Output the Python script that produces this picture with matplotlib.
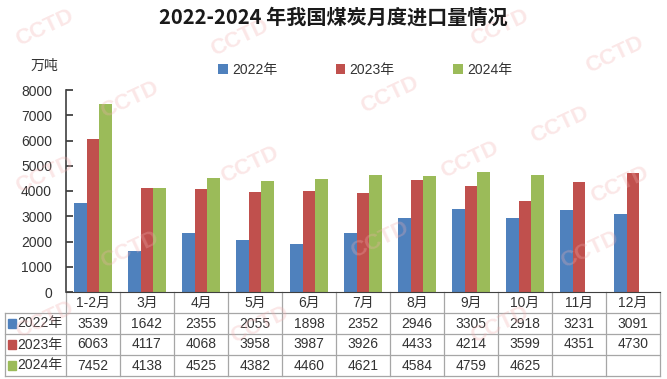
import matplotlib.pyplot as plt
import matplotlib.transforms as mtransforms
from matplotlib.patches import Rectangle
import numpy as np

plt.rcParams['font.family'] = ['Liberation Sans', 'Noto Sans CJK SC', 'DejaVu Sans']

# --- DATI ---
months = ["1-2月", "3月", "4月", "5月", "6月", "7月", "8月", "9月", "10月", "11月", "12月"]
years = ["2022年", "2023年", "2024年"]
v2022 = [3539, 1642, 2355, 2055, 1898, 2352, 2946, 3305, 2918, 3231, 3091]
v2023 = [6063, 4117, 4068, 3958, 3987, 3926, 4433, 4214, 3599, 4351, 4730]
v2024 = [7452, 4138, 4525, 4382, 4460, 4621, 4584, 4759, 4625, None, None]
colors = ["#4F81BD", "#C0504D", "#9BBB59"]

W, H = 667, 379
fig = plt.figure(figsize=(W / 100, H / 100), dpi=100)
fig.patch.set_facecolor("white")

# axes: x 66..660 px, y 90..292 px
x0, x1, ytop, ybot = 66, 660, 90, 292
ax = fig.add_axes([x0 / W, 1 - ybot / H, (x1 - x0) / W, (ybot - ytop) / H])

# watermark CCTD (tenue)
wm = [(45, 28), (240, 38), (500, 28), (615, 55), (130, 100), (390, 95), (560, 125),
      (45, 175), (250, 165), (470, 160), (620, 185), (130, 250), (380, 240), (590, 250),
      (45, 320), (260, 325), (500, 325)]
for px, py in wm:
    fig.text(px / W, 1 - py / H, "CCTD", fontsize=16, color="#f2b0b0", alpha=0.3,
             rotation=25, ha="center", va="center", fontweight="bold", zorder=0)

series = [v2022, v2023, v2024]
bw = 0.235
x = np.arange(len(months))
for k, (vals, c) in enumerate(zip(series, colors)):
    xs = [xi + (k - 1) * bw for xi, v in zip(x, vals) if v is not None]
    ys = [v for v in vals if v is not None]
    ax.bar(xs, ys, width=bw, color=c, zorder=2, label=years[k])

ax.set_xlim(-0.5, len(months) - 0.5)
ax.set_ylim(0, 8000)
ax.set_yticks(range(0, 8001, 1000))
ax.tick_params(axis="y", direction="in", length=5, width=1.2, labelsize=10,
               colors="#333333", pad=10)
ax.set_xticks([])
for s in ["top", "right"]:
    ax.spines[s].set_visible(False)
ax.spines["left"].set_color("#404040")
ax.spines["left"].set_linewidth(1.2)
ax.spines["bottom"].set_color("#404040")
ax.patch.set_alpha(0)

# --- TABELLA ---
trans = mtransforms.blended_transform_factory(ax.transData, ax.transAxes)
row_h = 21 / (ybot - ytop)
lab_left = -0.5 - 61 / ((x1 - x0) / len(months))
grid_c = "#a6a6a6"
nrows = 4
for r in range(1, nrows + 1):
    ax.plot([lab_left, len(months) - 0.5], [-r * row_h] * 2, color=grid_c, lw=0.9,
            transform=trans, clip_on=False)
for i in range(len(months) + 1):
    ax.plot([i - 0.5] * 2, [0, -nrows * row_h], color=grid_c, lw=0.9,
            transform=trans, clip_on=False)
ax.plot([lab_left] * 2, [-row_h, -nrows * row_h], color=grid_c, lw=0.9,
        transform=trans, clip_on=False)

fs = 10
for i, m in enumerate(months):
    ax.text(i, -0.5 * row_h, m, ha="center", va="center", fontsize=fs,
            color="#333333", transform=trans)
for r, (vals, c, yl) in enumerate(zip(series, colors, years)):
    yc = -(r + 1.5) * row_h
    for i, v in enumerate(vals):
        if v is not None:
            ax.text(i, yc, str(v), ha="center", va="center", fontsize=fs,
                    color="#333333", transform=trans)
    ax.add_patch(Rectangle((lab_left + 0.06, yc - 0.023), 0.14, 0.046, color=c,
                           transform=trans, clip_on=False))
    ax.text(lab_left + 0.23, yc, yl, ha="left", va="center", fontsize=fs,
            color="#333333", transform=trans)

# titolo, unità, legenda
fig.text(0.5, 1 - 17 / H, "2022-2024 年我国煤炭月度进口量情况", ha="center", va="center",
         fontsize=14.5, fontweight="bold", color="#1a1a1a",
         family=["Noto Sans CJK SC", "DejaVu Sans"])
fig.text(44 / W, 1 - 66 / H, "万吨", ha="center", va="center", fontsize=10, color="#333333")
fig.legend(loc="center", bbox_to_anchor=(365 / W, 1 - 70 / H), ncol=3, frameon=False,
           fontsize=10, handlelength=0.7, handleheight=0.7, handletextpad=0.3,
           columnspacing=4.2, labelcolor="#333333")

fig.savefig("out.png", dpi=100, facecolor="white")
